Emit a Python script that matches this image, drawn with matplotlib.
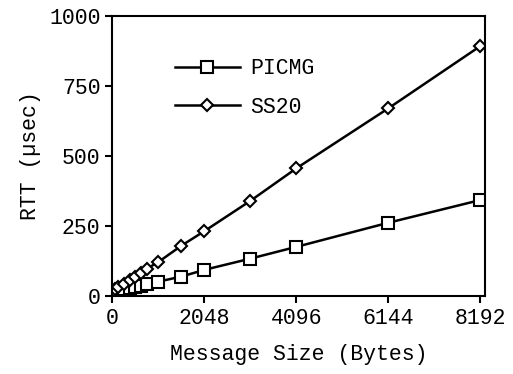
import matplotlib.pyplot as plt

plt.rcParams['font.family'] = ['Liberation Mono', 'DejaVu Sans Mono']

msg_size = [16, 64, 128, 256, 384, 512, 640, 768, 1024, 1536, 2048, 3072, 4096, 6144, 8192]
picmg = [14, 17, 20, 25, 29, 33, 38, 43, 52, 70, 94, 134, 176, 262, 343]
ss20 = [18, 25, 32, 45, 56, 68, 82, 98, 122, 180, 232, 340, 456, 670, 892]
xticks = [0, 2048, 4096, 6144, 8192]
yticks = [0, 250, 500, 750, 1000]

fig = plt.figure(figsize=(5.13, 3.74), dpi=100)
ax = fig.add_axes([0.219, 0.208, 0.727, 0.750])

ax.plot(msg_size, picmg, color='black', lw=1.8, marker='s', ms=8.5,
        mfc='white', mec='black', mew=1.5, label='PICMG')
ax.plot(msg_size, ss20, color='black', lw=1.8, marker='D', ms=6.5,
        mfc='white', mec='black', mew=1.5, label='SS20')

ax.set_xlim(0, 8300)
ax.set_ylim(0, 1000)
ax.set_xticks(xticks)
ax.set_yticks(yticks)
ax.tick_params(labelsize=15.5, direction='out', length=5, width=1.5)
for s in ax.spines.values():
    s.set_linewidth(1.5)

ax.set_xlabel('Message Size (Bytes)', fontsize=15.5, labelpad=11)
ax.set_ylabel('RTT (µsec)', fontsize=15.5, labelpad=6)

ax.legend(frameon=False, loc='center left', bbox_to_anchor=(0.168, 0.742),
          borderpad=0, borderaxespad=0, handlelength=3.0, handletextpad=0.5,
          labelspacing=0.8, fontsize=15.5)

fig.savefig('out.png', dpi=100)
